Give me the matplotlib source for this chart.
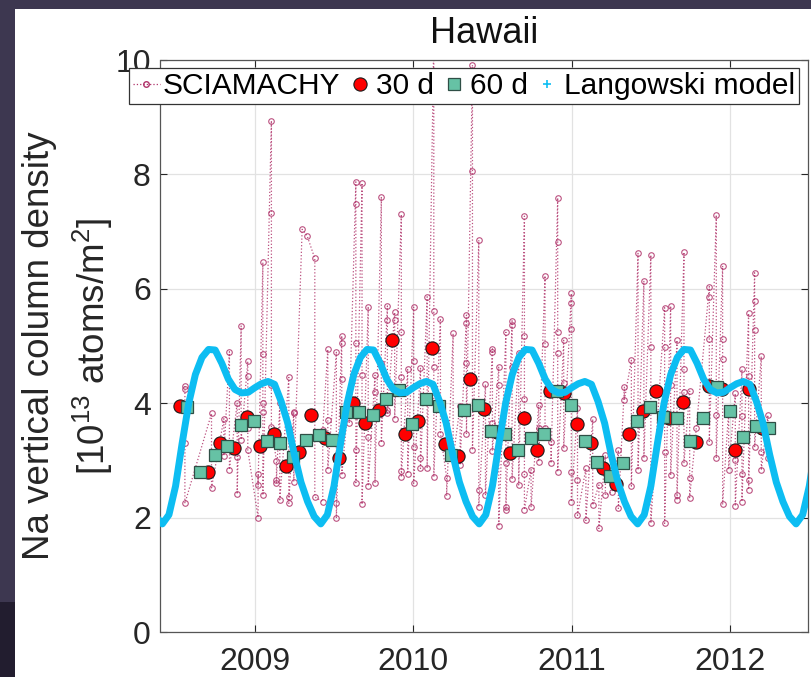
import numpy as np
import matplotlib.pyplot as plt
from matplotlib.lines import Line2D
from matplotlib.patches import Rectangle

plt.rcParams['font.family'] = ['Liberation Sans', 'DejaVu Sans']
plt.rcParams['mathtext.fontset'] = 'custom'
plt.rcParams['mathtext.rm'] = 'Liberation Sans'
plt.rcParams['mathtext.it'] = 'Liberation Sans:italic'

# SCIAMACHY single retrievals (decimal year, values on that date)
sci_days = [
    2008.559, 2008.727, 2008.805, 2008.840, 2008.889, 2008.914, 2008.956,
    2009.021, 2009.051, 2009.105, 2009.137, 2009.158, 2009.215, 2009.246,
    2009.299, 2009.330, 2009.379, 2009.429, 2009.461, 2009.515, 2009.549,
    2009.596, 2009.638, 2009.677, 2009.716, 2009.759, 2009.799, 2009.837,
    2009.883, 2009.925, 2009.965, 2010.003, 2010.046, 2010.088, 2010.130,
    2010.172, 2010.211, 2010.252, 2010.296, 2010.336, 2010.374, 2010.414,
    2010.456, 2010.500, 2010.540, 2010.585, 2010.624, 2010.666, 2010.702,
    2010.744, 2010.792, 2010.832, 2010.870, 2010.912, 2010.950, 2010.998,
    2011.037, 2011.090, 2011.133, 2011.172, 2011.213, 2011.255, 2011.295,
    2011.333, 2011.377, 2011.419, 2011.456, 2011.500, 2011.587, 2011.625,
    2011.665, 2011.709, 2011.745, 2011.787, 2011.869, 2011.913, 2011.953,
    2011.991, 2012.033, 2012.075, 2012.117, 2012.155, 2012.197, 2012.239,
]
sci_vals = [
    [4.30, 4.24, 3.31, 2.25], [3.82, 2.52], [3.73, 3.08], [4.90, 2.84],
    [4.01, 3.06, 2.41], [5.35, 3.36], [4.73, 4.48, 3.56, 3.18],
    [2.00, 2.76, 2.57], [6.46, 4.86, 4.01, 3.85, 2.39], [8.94, 7.33, 4.32, 3.59],
    [2.99, 2.60, 2.66], [4.01, 2.31], [4.45, 3.56, 2.36, 2.25], [3.85, 3.82, 2.63],
    [7.04], [6.93], [6.53, 2.36], [2.28, 3.53], [4.94, 3.71, 2.84],
    [4.89, 2.26, 1.99], [5.18, 5.06, 4.43, 2.74],
    [4.17, 3.81, 3.65], [7.87, 7.49, 5.05, 3.19, 2.61], [7.85, 4.50, 2.23],
    [5.69, 3.41, 2.55], [4.49, 4.20, 2.60], [7.61, 4.70, 3.31], [5.70, 5.45, 3.88, 3.83],
    [5.59, 5.45, 3.73], [7.30, 5.24, 4.46, 2.81, 2.71], [4.59, 2.77],
    [5.68, 4.73, 3.24, 2.60], [4.61, 3.05, 2.86], [5.86, 2.86], [10.4, 5.62, 4.64, 2.71],
    [5.48, 3.47], [2.70, 2.38], [5.22, 3.04], [3.95, 2.92], [5.54, 5.41, 4.70, 3.46],
    [9.91, 8.06, 3.18], [6.85, 2.48, 2.19],
    [4.33, 2.39], [4.95, 4.89, 3.66, 3.17], [4.64, 4.32, 1.85], [5.24, 2.95, 2.18, 2.13],
    [5.44, 5.37, 4.64, 2.67], [4.88, 2.57], [7.27, 5.17, 4.08, 2.76, 2.14],
    [2.84, 2.18], [3.97, 3.56, 2.98], [6.23, 5.03, 3.56], [3.33, 2.95],
    [7.59, 6.82, 5.24, 4.87, 2.80], [5.10, 4.36, 3.21], [5.92, 5.75, 5.29, 2.80, 2.28],
    [3.91, 2.66, 2.04], [2.86, 1.95], [3.72, 2.22], [2.57, 1.81], [3.09, 2.39], [2.45],
    [3.18, 2.16], [4.29, 4.06], [4.75, 2.55], [6.62, 2.83], [6.14, 3.04],
    [6.59, 4.98, 1.90], [5.67, 4.99, 3.15, 1.90], [5.70, 4.32, 2.74],
    [5.10, 2.39, 2.31], [6.64, 4.59, 4.20, 2.95], [4.21, 2.69, 2.35], [3.57],
    [6.04, 5.85, 5.13, 3.33], [7.29, 3.79, 3.04], [6.40, 5.12, 4.78, 2.23],
    [3.88, 2.84], [4.17, 3.01, 2.20], [4.59, 3.78, 2.77, 2.28],
    [5.57, 4.47, 2.66, 2.49], [6.28, 5.79, 5.28, 3.23], [4.82, 3.15, 2.83], [3.79, 3.04],
]

# 30-day means
m30_t = [2008.527, 2008.703, 2008.779, 2008.867, 2008.948, 2009.036, 2009.120,
         2009.198, 2009.278, 2009.358, 2009.446, 2009.530, 2009.621, 2009.698,
         2009.782, 2009.867, 2009.946, 2010.031, 2010.119, 2010.199, 2010.283,
         2010.361, 2010.445, 2010.529, 2010.609, 2010.702, 2010.782, 2010.866,
         2010.954, 2011.034, 2011.122, 2011.198, 2011.280, 2011.364, 2011.448,
         2011.532, 2011.616, 2011.703, 2011.787, 2011.864, 2011.949, 2012.033,
         2012.117, 2012.201]
m30_v = [3.95, 2.79, 3.30, 3.21, 3.76, 3.26, 3.46, 2.90, 3.15, 3.79, 3.39, 3.05,
         4.01, 3.66, 3.88, 5.10, 3.47, 3.69, 4.96, 3.29, 3.08, 4.42, 3.89, 3.50,
         3.13, 3.75, 3.19, 4.22, 4.18, 3.63, 3.31, 2.86, 2.58, 3.46, 3.86, 4.22,
         3.75, 4.02, 3.33, 4.30, 4.24, 3.18, 4.24, 3.56]

# 60-day means
m60_t = [2008.573, 2008.657, 2008.746, 2008.826, 2008.914, 2008.998, 2009.078,
         2009.158, 2009.242, 2009.326, 2009.408, 2009.488, 2009.577, 2009.661,
         2009.745, 2009.829, 2009.909, 2009.993, 2010.081, 2010.161, 2010.241,
         2010.323, 2010.407, 2010.491, 2010.577, 2010.662, 2010.744, 2010.828,
         2010.908, 2010.996, 2011.082, 2011.160, 2011.244, 2011.324, 2011.413,
         2011.492, 2011.574, 2011.665, 2011.749, 2011.829, 2011.917, 2011.997,
         2012.081, 2012.165, 2012.243]
m60_v = [3.94, 2.79, 3.09, 3.25, 3.62, 3.69, 3.34, 3.31, 3.06, 3.36, 3.44, 3.36,
         3.85, 3.85, 3.79, 4.07, 4.23, 3.63, 4.07, 3.95, 3.09, 3.88, 3.97, 3.51,
         3.46, 3.18, 3.39, 3.47, 4.22, 3.97, 3.34, 2.97, 2.73, 2.96, 3.69, 3.94,
         3.76, 3.75, 3.34, 3.74, 4.28, 3.87, 3.41, 3.60, 3.56]

# Langowski model: one annual cycle, read every half month, repeated each year
model_cycle = [4.27, 4.34, 4.38, 4.33, 4.03, 3.65, 3.10, 2.62, 2.28, 2.02, 1.89, 2.05,
               2.55, 3.30, 4.00, 4.50, 4.80, 4.94, 4.93, 4.70, 4.42, 4.24, 4.18, 4.19]
model_years = [2008, 2009, 2010, 2011, 2012]

sci_x = np.concatenate([[d] * len(v) for d, v in zip(sci_days, sci_vals)])
sci_y = np.concatenate(sci_vals)

phase = np.arange(len(model_cycle)) / len(model_cycle)
mod_x = np.concatenate([y + phase for y in model_years] + [[2013.0]])
mod_y = np.concatenate([model_cycle] * len(model_years) + [[model_cycle[0]]])

fig = plt.figure(figsize=(8.12, 6.77), dpi=100)
W, H = 812, 677
ax = fig.add_axes([160.5 / W, 45 / H, 647.2 / W, 572 / H])

sci_col = '#b0336a'
ax.plot(sci_x, sci_y, ':', color=sci_col, lw=0.9, marker='o', ms=4,
        mfc='none', mec=sci_col, mew=0.8, alpha=0.85, zorder=2)
ax.plot(m30_t, m30_v, 'o', ms=9.5, mfc='#ff0000', mec='#1a1a1a', mew=0.8, zorder=3)
ax.plot(m60_t, m60_v, 's', ms=8, mfc='#66c2a5', mec='#2f4f46', mew=0.9, zorder=4)
cyan = '#0dbdf2'
ax.plot(mod_x, mod_y, '-', color=cyan, lw=5.0, solid_joinstyle='round', zorder=5)

ax.set_xlim(2008.405, 2012.49)
ax.set_ylim(0, 10)
ax.set_xticks([2009, 2010, 2011, 2012])
ax.set_xticklabels(['2009', '2010', '2011', '2012'])
ax.set_yticks([0, 2, 4, 6, 8, 10])
ax.grid(True, color='#e2e2e2', lw=0.9, zorder=0)
ax.set_axisbelow(True)
ax.tick_params(direction='in', length=5, width=0.8, colors='#262626',
               labelsize=23, top=True, right=True)
ax.tick_params(axis='y', pad=7)
ax.tick_params(axis='x', pad=11)
for s in ax.spines.values():
    s.set_color('#555555')
    s.set_linewidth(0.9)

ax.set_title('Hawaii', fontsize=26, pad=12, color='#111111')
ax.set_ylabel('Na vertical column density\n[10$^{13}$ atoms/m$^2$]',
              fontsize=26.5, color='#262626', labelpad=0, linespacing=1.4)

handles = [
    Line2D([], [], ls=':', color=sci_col, lw=0.9, marker='o', ms=4, mfc='none', mec=sci_col),
    Line2D([], [], ls='none', marker='o', ms=9.5, mfc='#ff0000', mec='#1a1a1a', mew=0.8),
    Line2D([], [], ls='none', marker='s', ms=8, mfc='#66c2a5', mec='#2f4f46', mew=0.9),
    Line2D([], [], ls='none', marker='+', ms=6, color=cyan, mew=1.2),
]
labels = ['SCIAMACHY', '30 d', '60 d', 'Langowski model']
leg = ax.legend(handles, labels, ncol=4, loc='center',
                bbox_to_anchor=(464 / W, 1 - 86 / H), bbox_transform=fig.transFigure,
                fontsize=21.5, handlelength=0.9, handletextpad=0.1, columnspacing=0.2,
                borderpad=0.12, borderaxespad=0, fancybox=False, framealpha=1,
                edgecolor='#333333')
leg.get_frame().set_linewidth(0.9)
leg.set_zorder(10)

# slide background around the figure
bg = '#3d3750'
fig.add_artist(Rectangle((0, 1 - 9 / H), 1, 9 / H, transform=fig.transFigure,
                         color=bg, lw=0, zorder=20))
fig.add_artist(Rectangle((0, 0), 15 / W, 1, transform=fig.transFigure,
                         color=bg, lw=0, zorder=20))
fig.add_artist(Rectangle((0, 0), 15 / W, 75 / H, transform=fig.transFigure,
                         color='#221d2f', lw=0, zorder=21))

fig.savefig('out.png', dpi=100)
